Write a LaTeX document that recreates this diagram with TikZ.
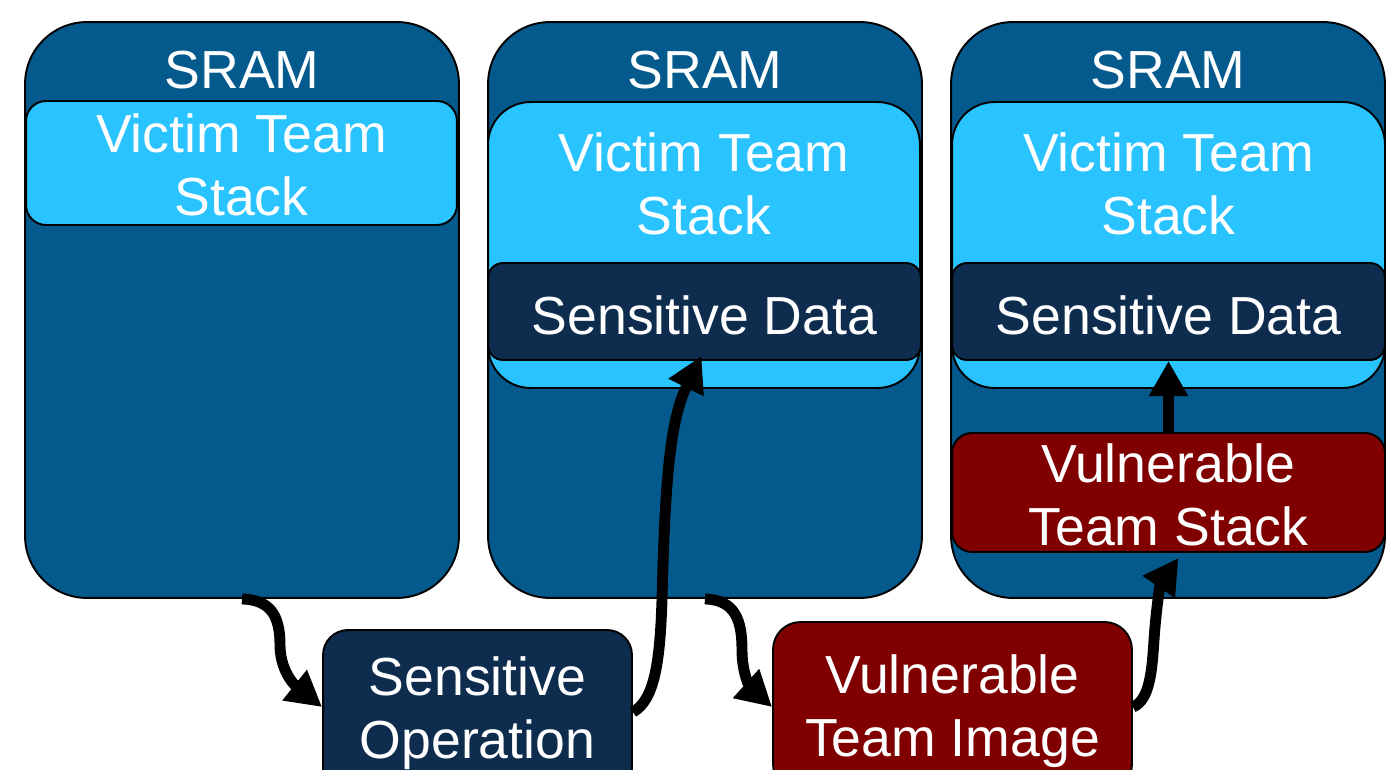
\documentclass[tikz,border=0pt]{standalone}
\usepackage{fontspec}
\setmainfont{Liberation Sans}
\usetikzlibrary{arrows.meta,calc}
\definecolor{sramblue}{HTML}{045A8D}
\definecolor{lightblue}{HTML}{29C3FF}
\definecolor{navy}{HTML}{0E2D4E}
\definecolor{darkred}{HTML}{800000}
\begin{document}
\begin{tikzpicture}[x=0.02cm,y=-0.02cm,
  boxs/.style={draw=black, line width=1.1pt, inner sep=0pt},
  sram/.style={boxs, fill=sramblue, rounded corners=1.24cm, minimum width=8.68cm, minimum height=11.52cm},
  lbl/.style={text=white, align=center, inner sep=0pt, font=\fontsize{30.5}{36}\selectfont},
  conn/.style={line width=6.2pt, -{Triangle[width=21pt,length=20pt]}},
]
\useasboundingbox (0,0) rectangle (1393,770);
\clip (0,0) rectangle (1393,770);

% SRAM containers
\node[sram] (s1) at (242,310) {};
\node[sram] (s2) at (705,310) {};
\node[sram] (s3) at (1168,310) {};
\node[lbl] (t1) at (242,70) {SRAM};
\node[lbl] (t2) at (705,70) {SRAM};
\node[lbl] (t3) at (1168,70) {SRAM};

% Victim team stacks
\node[boxs, fill=lightblue, rounded corners=0.4cm, minimum width=8.62cm, minimum height=2.48cm] (vt1) at (241.5,163) {};
\node[lbl] (vt1t) at (241.5,164.5) {Victim Team\\Stack};

\node[boxs, fill=lightblue, rounded corners=0.85cm, minimum width=8.64cm, minimum height=5.72cm] (vt2) at (704,245) {};
\node[lbl] (vt2t) at (704,183.5) {Victim Team\\Stack};
\node[boxs, fill=navy, rounded corners=0.3cm, minimum width=8.66cm, minimum height=1.94cm] (sd2) at (704.5,311.5) {};
\node[lbl] (sd2t) at (704.5,315) {Sensitive Data};

\node[boxs, fill=lightblue, rounded corners=0.85cm, minimum width=8.66cm, minimum height=5.72cm] (vt3) at (1168.5,245) {};
\node[lbl] (vt3t) at (1168.5,183.5) {Victim Team\\Stack};
\node[boxs, fill=navy, rounded corners=0.3cm, minimum width=8.66cm, minimum height=1.94cm] (sd3) at (1168.5,311.5) {};
\node[lbl] (sd3t) at (1168.5,315) {Sensitive Data};

\node[boxs, fill=darkred, rounded corners=0.4cm, minimum width=8.66cm, minimum height=2.38cm] (vs3) at (1168.5,492.5) {};
\node[lbl] (vs3t) at (1168.5,495) {Vulnerable\\Team Stack};

% Bottom boxes
\node[boxs, fill=navy, rounded corners=0.5cm, minimum width=6.18cm, minimum height=3.4cm] (sop) at (477.5,715) {};
\node[lbl] (sopt) at (477.5,713) {Sensitive\\Operation};
\node[boxs, fill=darkred, rounded corners=0.55cm, minimum width=7.18cm, minimum height=3.4cm] (vti) at (952.5,707) {};
\node[lbl] (vtit) at (952.5,711) {Vulnerable\\Team Image};

% Connectors
\draw[conn] (s1.south) .. controls (270,600) and (280,615) .. (280,645)
  .. controls (280,668) and (292,683) .. ($(sop.west)+(0,-8)$);
\draw[conn] ($(sop.east)+(0,-3)$) .. controls (655,700) and (660,660) .. (662,600)
  .. controls (665,480) and (670,420) .. ($(sd2.south)+(-3,-5)$);
\draw[conn] (s2.south) .. controls (735,600) and (742,620) .. (742,650)
  .. controls (742,675) and (751,688) .. (vti.west);
\draw[conn] (vti.east) .. controls (1150,700) and (1152,670) .. (1154,640)
  .. controls (1156,610) and (1160,585) .. ($(vs3.south)+(10,5)$);
\draw[conn] (vs3.north) -- (sd3.south);
\end{tikzpicture}
\end{document}
